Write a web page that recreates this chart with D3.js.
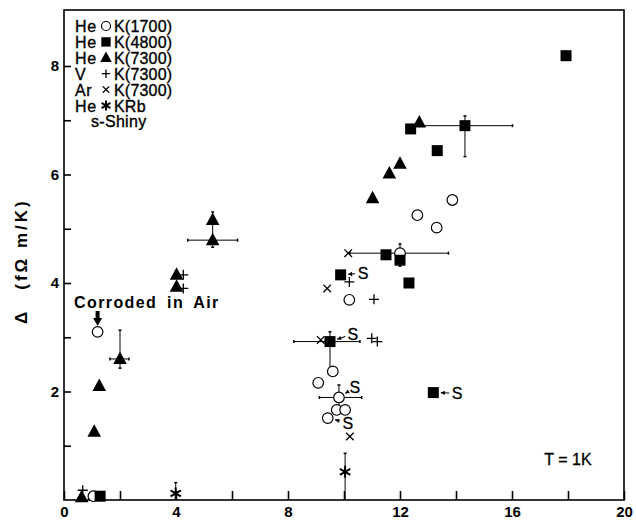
<!DOCTYPE html>
<html>
<head>
<meta charset="utf-8">
<script src="https://cdn.jsdelivr.net/npm/d3@7"></script>
<style>
  html, body { margin: 0; padding: 0; background: #fff; }
  svg { display: block; }
  text { font-family: "Liberation Sans", Arial, Helvetica, sans-serif; fill: #000; }
</style>
</head>
<body>
<svg id="chart" width="636" height="520"></svg>
<script>
// ---------- data ----------
const xTicks = [0, 2, 4, 6, 8, 10, 12, 14, 16, 18, 20];
const xTickLabels = [0, 4, 8, 12, 16, 20];
const yTicks = [1, 2, 3, 4, 5, 6, 7, 8];
const yTickLabels = [2, 4, 6, 8];

// He K(1700) open circles
const heK1700 = [
  {x: 1.20, y: 3.10}, {x: 1.05, y: 0.07}, {x: 12.0, y: 4.55}, {x: 12.62, y: 5.25},
  {x: 13.31, y: 5.02}, {x: 13.87, y: 5.53}, {x: 10.19, y: 3.69}, {x: 9.60, y: 2.37},
  {x: 9.08, y: 2.16}, {x: 9.82, y: 1.89}, {x: 9.74, y: 1.66}, {x: 10.04, y: 1.66},
  {x: 9.42, y: 1.51}
];
// He K(4800) filled squares
const heK4800 = [
  {x: 1.29, y: 0.07}, {x: 9.5, y: 2.92}, {x: 9.88, y: 4.15}, {x: 11.5, y: 4.52},
  {x: 12.0, y: 4.42}, {x: 12.32, y: 4.00}, {x: 13.19, y: 1.98}, {x: 12.38, y: 6.84},
  {x: 13.33, y: 6.44}, {x: 14.32, y: 6.90}, {x: 17.93, y: 8.19}
];
// He K(7300) filled triangles
const heK7300 = [
  {x: 0.63, y: 0.05}, {x: 1.08, y: 1.26}, {x: 1.26, y: 2.10}, {x: 2.0, y: 2.60},
  {x: 4.02, y: 4.15}, {x: 4.02, y: 3.93}, {x: 5.31, y: 5.16}, {x: 5.31, y: 4.79},
  {x: 11.02, y: 5.56}, {x: 11.62, y: 6.02}, {x: 12.0, y: 6.20}, {x: 12.69, y: 6.96}
];
// V K(7300) plus
const vK7300 = [
  {x: 0.67, y: 0.18}, {x: 4.26, y: 4.15}, {x: 4.26, y: 3.90}, {x: 10.19, y: 4.02},
  {x: 11.07, y: 3.70}, {x: 10.99, y: 2.98}, {x: 11.19, y: 2.92}
];
// Ar K(7300) cross
const arK7300 = [
  {x: 10.15, y: 4.55}, {x: 9.40, y: 3.90}, {x: 9.17, y: 2.95}, {x: 10.21, y: 1.17}
];
// He KRb asterisk
const heKRb = [
  {x: 3.99, y: 0.12}, {x: 10.04, y: 0.52}
];
// error bars (x0..x1 horizontal, y0..y1 vertical)
const errorBars = [
  {x: 2.0, y: 2.60, x0: 1.64, x1: 2.32, y0: 2.43, y1: 3.13},
  {x: 5.31, y: 4.79, x0: 4.42, x1: 6.20, y0: 4.66, y1: 5.31},
  {x: 12.0, y: 4.55, x0: 10.21, x1: 13.73, y0: 4.31, y1: 4.72},
  {x: 9.5, y: 2.92, x0: 8.21, x1: 10.57, y0: 2.40, y1: 3.10},
  {x: 9.82, y: 1.89, x0: 9.12, x1: 10.63, y0: 1.63, y1: 2.12},
  {x: 14.32, y: 6.90, x0: 12.70, x1: 16.02, y0: 6.33, y1: 7.08},
  {x: 3.99, y: 0.12, x0: null, x1: null, y0: 0.0, y1: 0.32},
  {x: 10.04, y: 0.52, x0: null, x1: null, y0: 0.0, y1: 0.86}
];
// "Shiny" annotations: point and label
const shiny = [
  {px: 9.88, py: 4.15, lx: 10.68, ly: 4.18},
  {px: 9.5, py: 2.92, lx: 10.32, ly: 3.06},
  {px: 9.82, py: 1.89, lx: 10.39, ly: 2.08},
  {px: 9.42, py: 1.51, lx: 10.14, ly: 1.42},
  {px: 13.19, py: 1.98, lx: 14.04, ly: 1.97}
];
const legendRows = [
  {pre: "He", sym: "circle", post: "K(1700)"},
  {pre: "He", sym: "square", post: "K(4800)"},
  {pre: "He", sym: "triangle", post: "K(7300)"},
  {pre: "V", sym: "plus", post: "K(7300)"},
  {pre: "Ar", sym: "cross", post: "K(7300)"},
  {pre: "He", sym: "asterisk", post: "KRb"}
];

// ---------- layout ----------
const svg = d3.select("#chart");
const L = 64, R = 624, T = 10, B = 500;
const x = d3.scaleLinear().domain([0, 20]).range([L, R]);
const y = d3.scaleLinear().domain([0, (B - T) / 54.25]).range([B, T]);

// frame
svg.append("rect").attr("x", L).attr("y", T).attr("width", R - L).attr("height", B - T)
  .attr("fill", "none").attr("stroke", "#000").attr("stroke-width", 1.6);

// x axis
const xAxis = d3.axisBottom(x).tickValues(xTicks)
  .tickFormat(d => xTickLabels.includes(d) ? d : "")
  .tickSizeInner(-9).tickSizeOuter(0).tickPadding(6);
const gx = svg.append("g").attr("transform", `translate(0,${B})`).call(xAxis);
gx.select(".domain").remove();
gx.selectAll(".tick line").attr("stroke", "#000").attr("stroke-width", 1.6);
gx.selectAll(".tick text").style("font-size", "15px").style("font-weight", "bold")
  .style("font-family", "Liberation Sans, Arial, sans-serif").attr("fill", "#000");

// y axis
const yAxis = d3.axisLeft(y).tickValues(yTicks)
  .tickFormat(d => yTickLabels.includes(d) ? d : "")
  .tickSizeInner(-7).tickSizeOuter(0).tickPadding(5);
const gy = svg.append("g").attr("transform", `translate(${L},0)`).call(yAxis);
gy.select(".domain").remove();
gy.selectAll(".tick line").attr("stroke", "#000").attr("stroke-width", 1.6);
gy.selectAll(".tick text").style("font-size", "15px").style("font-weight", "bold")
  .style("font-family", "Liberation Sans, Arial, sans-serif").attr("fill", "#000");

// y axis title (rotated)
const yt = svg.append("text")
  .attr("transform", "translate(27,324) rotate(-90)")
  .style("font-size", "17px").style("font-weight", "bold");
yt.append("tspan").text("Δ");
yt.append("tspan").attr("dx", 22).style("letter-spacing", "3px").text("(fΩ m/K)");

// ---------- marker helpers ----------
function drawSym(g, type, cx, cy, s) {
  if (type === "circle") {
    g.append("circle").attr("cx", cx).attr("cy", cy).attr("r", 5.3 * s)
      .attr("fill", "#fff").attr("stroke", "#000").attr("stroke-width", 1.2);
  } else if (type === "square") {
    const h = 5.5 * s;
    g.append("rect").attr("x", cx - h).attr("y", cy - h).attr("width", 2 * h).attr("height", 2 * h)
      .attr("fill", "#000");
  } else if (type === "triangle") {
    const w = 6.8 * s, up = 7.5 * s, dn = 5 * s;
    g.append("path").attr("d", `M${cx},${cy - up}L${cx + w},${cy + dn}L${cx - w},${cy + dn}Z`)
      .attr("fill", "#000");
  } else if (type === "plus") {
    const h = 5 * s;
    g.append("path").attr("d", `M${cx - h},${cy}H${cx + h}M${cx},${cy - h}V${cy + h}`)
      .attr("stroke", "#000").attr("stroke-width", 1.3).attr("fill", "none");
  } else if (type === "cross") {
    const h = 3.8 * s;
    g.append("path").attr("d", `M${cx - h},${cy - h}L${cx + h},${cy + h}M${cx - h},${cy + h}L${cx + h},${cy - h}`)
      .attr("stroke", "#000").attr("stroke-width", 1.3).attr("fill", "none");
  } else if (type === "asterisk") {
    const h = 6 * s;
    const c = Math.cos(Math.PI / 6) * h, sn = Math.sin(Math.PI / 6) * h;
    g.append("path").attr("d",
      `M${cx},${cy - h}V${cy + h}M${cx - c},${cy - sn}L${cx + c},${cy + sn}M${cx - c},${cy + sn}L${cx + c},${cy - sn}`)
      .attr("stroke", "#000").attr("stroke-width", 2).attr("fill", "none");
  }
}

// ---------- error bars ----------
const gErr = svg.append("g").attr("stroke", "#000").attr("stroke-width", 1).attr("fill", "none");
errorBars.forEach(e => {
  if (e.x0 !== null) {
    gErr.append("line").attr("x1", x(e.x0)).attr("x2", x(e.x1)).attr("y1", y(e.y)).attr("y2", y(e.y));
    [e.x0, e.x1].forEach(v => gErr.append("line").attr("x1", x(v)).attr("x2", x(v))
      .attr("y1", y(e.y) - 1.5).attr("y2", y(e.y) + 1.5).attr("stroke-width", 1.5));
  }
  gErr.append("line").attr("x1", x(e.x)).attr("x2", x(e.x)).attr("y1", y(e.y0)).attr("y2", y(e.y1));
  [e.y0, e.y1].forEach(v => { if (v > 0) gErr.append("line").attr("x1", x(e.x) - 1.5).attr("x2", x(e.x) + 1.5)
      .attr("y1", y(v)).attr("y2", y(v)).attr("stroke-width", 1.5); });
});

// ---------- markers ----------
const gM = svg.append("g");
[[heK1700, "circle"], [heK4800, "square"], [heK7300, "triangle"],
 [vK7300, "plus"], [arK7300, "cross"], [heKRb, "asterisk"]].forEach(([arr, t]) => {
  arr.forEach(d => drawSym(gM, t, x(d.x), y(d.y), 1));
});

// ---------- shiny annotations ----------
const gS = svg.append("g");
shiny.forEach(s => {
  const px = x(s.px), py = y(s.py), lx = x(s.lx), ly = y(s.ly);
  const dx = px - lx, dy = py - ly, len = Math.hypot(dx, dy);
  const ux = dx / len, uy = dy / len;
  const sx = lx + ux * 8, sy = ly + uy * 8;
  const ex = px - ux * 7.5, ey = py - uy * 7.5;
  gS.append("line").attr("x1", sx).attr("y1", sy).attr("x2", ex).attr("y2", ey)
    .attr("stroke", "#000").attr("stroke-width", 1.1);
  const hl = 4, hw = 2.2;
  const bx = ex - ux * hl, by = ey - uy * hl;
  gS.append("path").attr("d",
    `M${ex},${ey}L${bx - uy * hw},${by + ux * hw}L${bx + uy * hw},${by - ux * hw}Z`).attr("fill", "#000");
  gS.append("text").attr("x", lx).attr("y", ly).attr("dy", "0.36em").attr("text-anchor", "middle")
    .style("font-size", "16px").attr("stroke", "#000").attr("stroke-width", 0.3).text("S");
});

// ---------- "Corroded in Air" ----------
svg.append("text").attr("x", 74).attr("y", 308)
  .style("font-size", "16px").style("font-weight", "bold").style("letter-spacing", "1.4px")
  .style("word-spacing", "4px").text("Corroded in Air");
{
  const ax = x(heK1700[0].x);
  svg.append("path").attr("d",
    `M${ax - 2},311H${ax + 2}V318H${ax + 4.5}L${ax},326L${ax - 4.5},318H${ax - 2}Z`).attr("fill", "#000");
}

// ---------- T = 1K ----------
svg.append("text").attr("x", 568).attr("y", 465).attr("text-anchor", "middle")
  .style("font-size", "16px").attr("stroke", "#000").attr("stroke-width", 0.3).text("T = 1K");

// ---------- legend ----------
const gL = svg.append("g");
const lx0 = 75, ly0 = 26, lstep = 15.9;
legendRows.forEach((r, i) => {
  const cy = ly0 + i * lstep;
  gL.append("text").attr("x", lx0).attr("y", cy + 6).style("font-size", "16px")
    .attr("stroke", "#000").attr("stroke-width", 0.35)
    .style("letter-spacing", "0.6px").text(r.pre);
  drawSym(gL, r.sym, 106, cy, 0.85);
  gL.append("text").attr("x", 114).attr("y", cy + 6).style("font-size", "16px")
    .attr("stroke", "#000").attr("stroke-width", 0.35)
    .style("letter-spacing", "0.2px").text(r.post);
});
gL.append("text").attr("x", 91).attr("y", ly0 + 6 * lstep + 6).style("font-size", "16px")
  .attr("stroke", "#000").attr("stroke-width", 0.35)
  .style("letter-spacing", "0.3px").text("s-Shiny");
</script>
</body>
</html>
